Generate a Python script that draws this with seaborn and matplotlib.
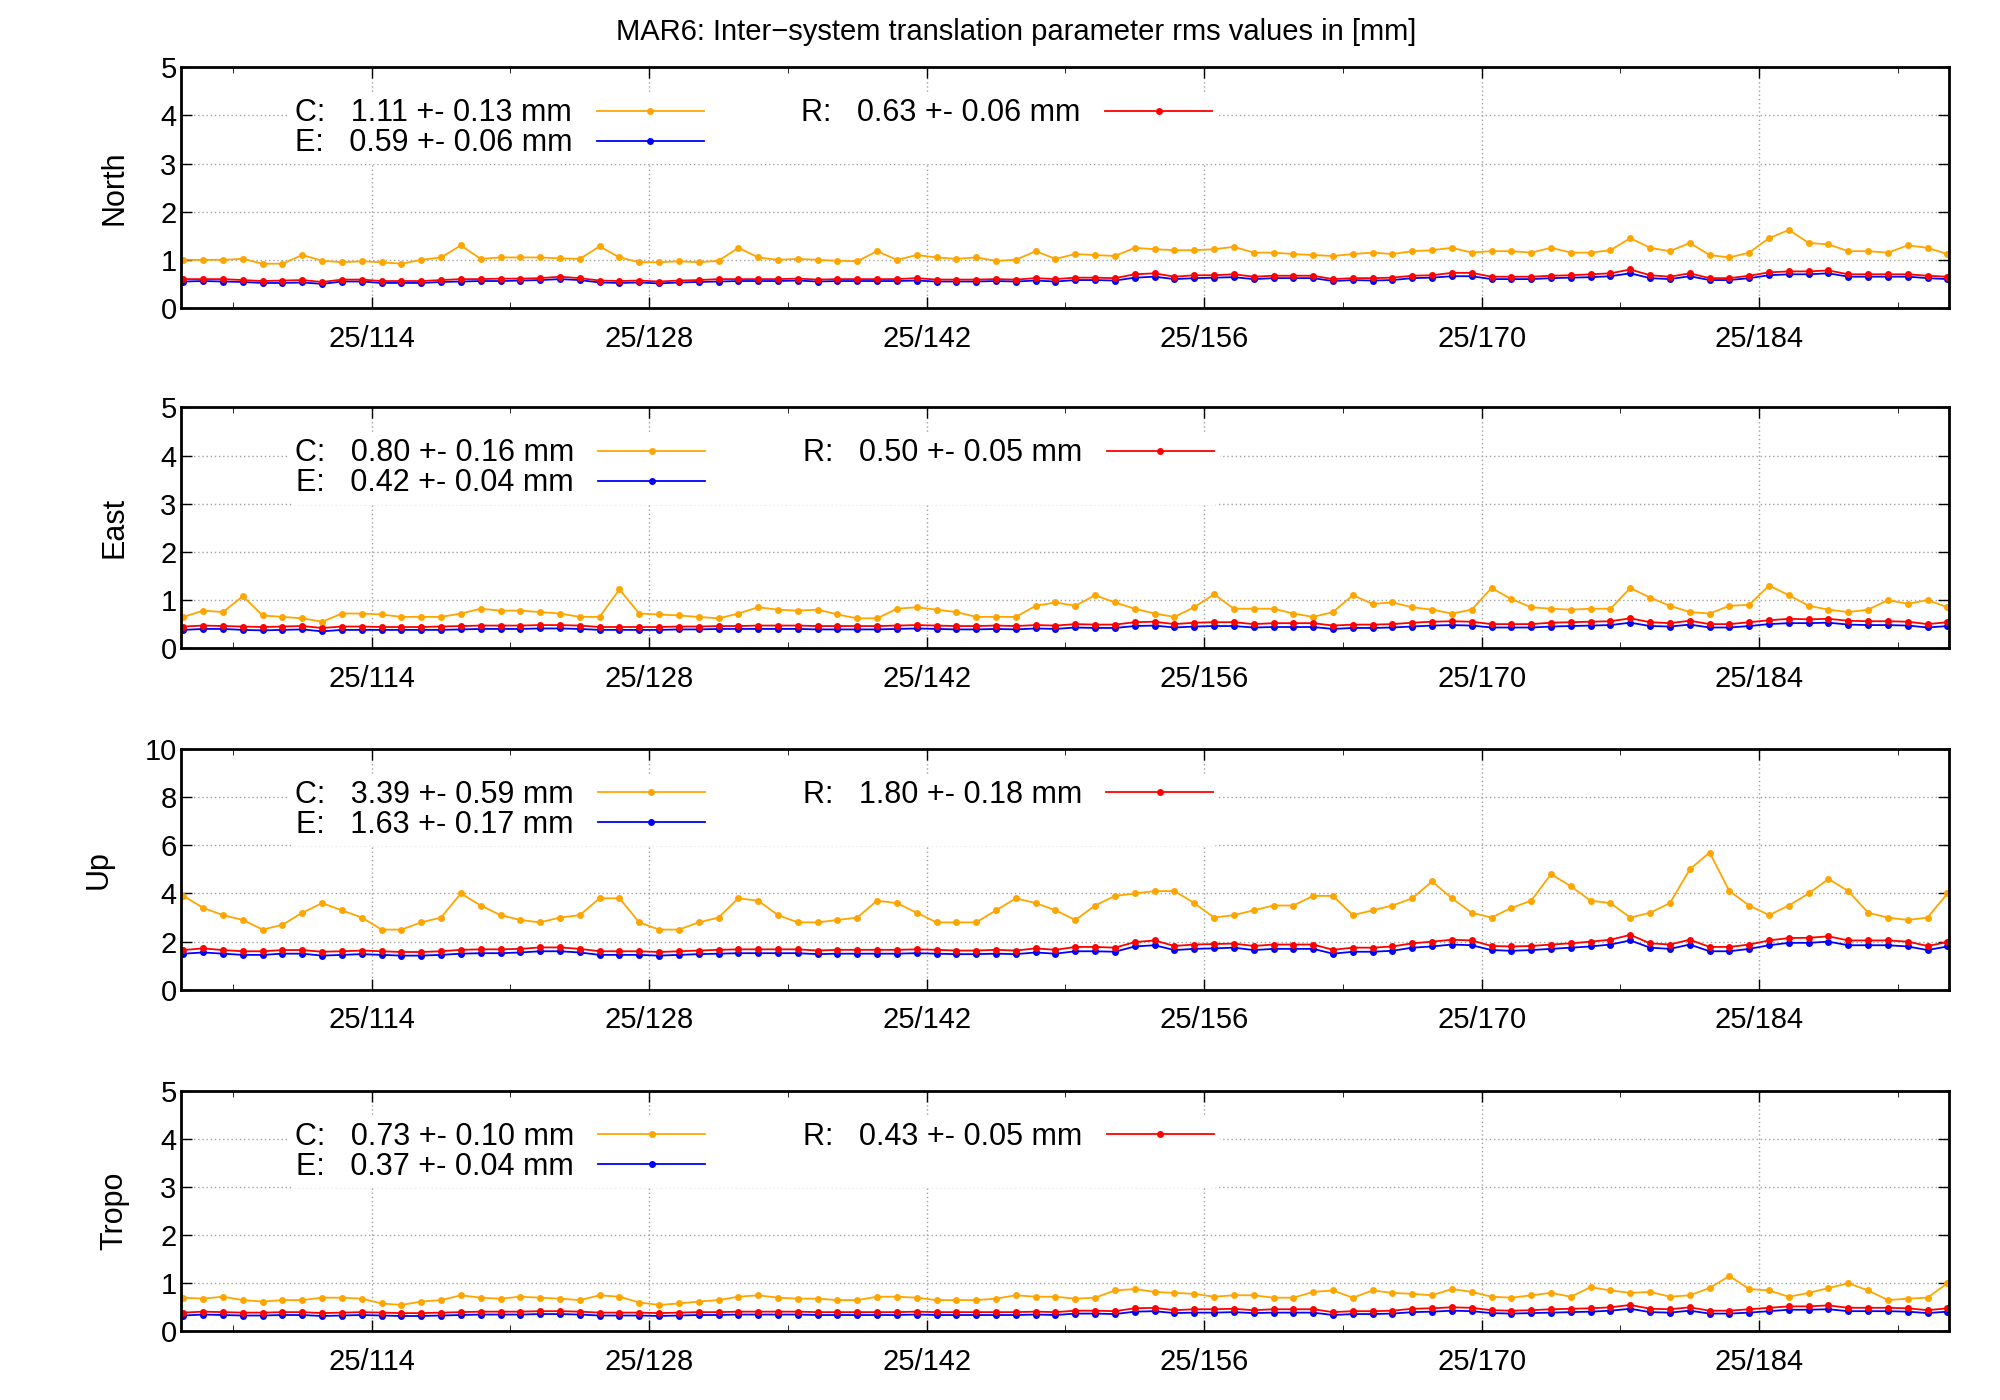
import matplotlib
matplotlib.use("Agg")
import matplotlib.pyplot as plt
import seaborn as sns
import pandas as pd

plt.rcParams["font.family"] = "Liberation Sans"

days = [104.5 + i for i in range(90)]
tick_days = [114, 128, 142, 156, 170, 184]
tick_labels = ["25/114", "25/128", "25/142", "25/156", "25/170", "25/184"]
components = ["North", "East", "Up", "Tropo"]
ylims = [5, 5, 10, 5]
stats = {
    "North": ["1.11 +- 0.13", "0.59 +- 0.06", "0.63 +- 0.06"],
    "East": ["0.80 +- 0.16", "0.42 +- 0.04", "0.50 +- 0.05"],
    "Up": ["3.39 +- 0.59", "1.63 +- 0.17", "1.80 +- 0.18"],
    "Tropo": ["0.73 +- 0.10", "0.37 +- 0.04", "0.43 +- 0.05"],
}

north_C = [1.0, 1.0, 1.0, 1.02, 0.92, 0.92, 1.1, 0.98, 0.95, 0.97,
           0.95, 0.92, 1.0, 1.05, 1.3, 1.02, 1.05, 1.05, 1.05, 1.03,
           1.02, 1.28, 1.05, 0.95, 0.95, 0.97, 0.95, 0.98, 1.25, 1.05,
           1.0, 1.02, 1.0, 0.98, 0.97, 1.18, 1.0, 1.1, 1.05, 1.02,
           1.05, 0.98, 1.0, 1.18, 1.02, 1.12, 1.1, 1.08, 1.25, 1.22,
           1.2, 1.2, 1.22, 1.27, 1.15, 1.15, 1.12, 1.1, 1.08, 1.12,
           1.15, 1.12, 1.18, 1.2, 1.25, 1.15, 1.18, 1.18, 1.15, 1.25,
           1.15, 1.15, 1.2, 1.45, 1.25, 1.18, 1.35, 1.1, 1.05, 1.15,
           1.45, 1.62, 1.35, 1.32, 1.18, 1.18, 1.15, 1.3, 1.25, 1.12]
north_E = [0.55, 0.56, 0.55, 0.54, 0.52, 0.52, 0.53, 0.5, 0.55, 0.55,
           0.52, 0.52, 0.52, 0.54, 0.55, 0.56, 0.56, 0.57, 0.58, 0.6,
           0.58, 0.53, 0.52, 0.53, 0.51, 0.53, 0.54, 0.55, 0.56, 0.56,
           0.56, 0.57, 0.55, 0.56, 0.56, 0.56, 0.56, 0.57, 0.55, 0.55,
           0.55, 0.56, 0.55, 0.57, 0.55, 0.58, 0.58, 0.57, 0.63, 0.65,
           0.6, 0.62, 0.63, 0.64, 0.6, 0.62, 0.62, 0.62, 0.56, 0.58,
           0.57, 0.58, 0.62, 0.63, 0.66, 0.66, 0.6, 0.6, 0.6, 0.62,
           0.63, 0.64, 0.66, 0.72, 0.62, 0.6, 0.66, 0.58, 0.58, 0.62,
           0.68, 0.7, 0.7, 0.72, 0.65, 0.65, 0.65, 0.65, 0.62, 0.6]
north_R = [0.6, 0.6, 0.6, 0.58, 0.56, 0.57, 0.58, 0.54, 0.59, 0.59,
           0.56, 0.56, 0.56, 0.58, 0.6, 0.6, 0.61, 0.61, 0.62, 0.65,
           0.62, 0.57, 0.56, 0.57, 0.55, 0.57, 0.58, 0.6, 0.6, 0.6,
           0.6, 0.61, 0.59, 0.6, 0.6, 0.6, 0.6, 0.62, 0.59, 0.59,
           0.59, 0.6, 0.59, 0.62, 0.6, 0.63, 0.63, 0.62, 0.7, 0.72,
           0.65, 0.68, 0.68, 0.7, 0.65, 0.67, 0.67, 0.67, 0.6, 0.62,
           0.62, 0.63, 0.67, 0.68, 0.73, 0.73, 0.65, 0.65, 0.65, 0.67,
           0.68, 0.7, 0.72, 0.8, 0.68, 0.65, 0.72, 0.62, 0.62, 0.67,
           0.74, 0.76, 0.76, 0.78, 0.7, 0.7, 0.7, 0.7, 0.67, 0.65]

east_C = [0.65, 0.78, 0.75, 1.08, 0.68, 0.65, 0.62, 0.55, 0.72, 0.72,
          0.7, 0.65, 0.65, 0.65, 0.72, 0.82, 0.78, 0.78, 0.75, 0.72,
          0.65, 0.65, 1.22, 0.72, 0.7, 0.68, 0.65, 0.62, 0.72, 0.85,
          0.8, 0.78, 0.8, 0.7, 0.62, 0.62, 0.82, 0.85, 0.8, 0.75,
          0.65, 0.65, 0.65, 0.88, 0.95, 0.88, 1.1, 0.95, 0.82, 0.72,
          0.65, 0.85, 1.12, 0.82, 0.82, 0.82, 0.72, 0.65, 0.75, 1.1,
          0.92, 0.95, 0.85, 0.8, 0.72, 0.8, 1.25, 1.02, 0.85, 0.82,
          0.8, 0.82, 0.82, 1.25, 1.05, 0.88, 0.75, 0.72, 0.88, 0.9,
          1.3, 1.1, 0.88, 0.8, 0.75, 0.8, 1.0, 0.92, 1.0, 0.85]
east_E = [0.38, 0.4, 0.4, 0.38, 0.37, 0.38, 0.39, 0.35, 0.38, 0.38,
          0.38, 0.38, 0.38, 0.38, 0.39, 0.4, 0.4, 0.4, 0.41, 0.41,
          0.4, 0.38, 0.38, 0.38, 0.38, 0.39, 0.39, 0.4, 0.4, 0.4,
          0.4, 0.4, 0.39, 0.39, 0.39, 0.39, 0.4, 0.41, 0.4, 0.39,
          0.39, 0.4, 0.39, 0.41, 0.4, 0.43, 0.42, 0.42, 0.46, 0.47,
          0.43, 0.45, 0.46, 0.46, 0.43, 0.44, 0.44, 0.44, 0.4, 0.42,
          0.42, 0.43, 0.45, 0.47, 0.48, 0.47, 0.43, 0.43, 0.43, 0.45,
          0.46, 0.47, 0.48, 0.53, 0.46, 0.45, 0.49, 0.43, 0.43, 0.46,
          0.5, 0.52, 0.52, 0.53, 0.49, 0.48, 0.48, 0.47, 0.43, 0.46]
east_R = [0.45, 0.47, 0.46, 0.45, 0.44, 0.45, 0.46, 0.42, 0.45, 0.45,
          0.44, 0.44, 0.44, 0.45, 0.46, 0.47, 0.47, 0.47, 0.48, 0.48,
          0.47, 0.44, 0.44, 0.44, 0.44, 0.45, 0.45, 0.46, 0.46, 0.47,
          0.47, 0.47, 0.46, 0.46, 0.46, 0.46, 0.47, 0.48, 0.47, 0.46,
          0.46, 0.47, 0.46, 0.48, 0.47, 0.5, 0.49, 0.49, 0.54, 0.55,
          0.5, 0.53, 0.54, 0.54, 0.5, 0.52, 0.52, 0.52, 0.47, 0.49,
          0.49, 0.5, 0.53, 0.55, 0.56, 0.55, 0.5, 0.5, 0.5, 0.53,
          0.54, 0.55, 0.56, 0.62, 0.54, 0.52, 0.57, 0.5, 0.5, 0.54,
          0.58, 0.61, 0.6, 0.61, 0.57, 0.56, 0.56, 0.55, 0.5, 0.54]

up_C = [3.9, 3.4, 3.1, 2.9, 2.5, 2.7, 3.2, 3.6, 3.3, 3.0,
        2.5, 2.5, 2.8, 3.0, 4.0, 3.5, 3.1, 2.9, 2.8, 3.0,
        3.1, 3.8, 3.8, 2.8, 2.5, 2.5, 2.8, 3.0, 3.8, 3.7,
        3.1, 2.8, 2.8, 2.9, 3.0, 3.7, 3.6, 3.2, 2.8, 2.8,
        2.8, 3.3, 3.8, 3.6, 3.3, 2.9, 3.5, 3.9, 4.0, 4.1,
        4.1, 3.6, 3.0, 3.1, 3.3, 3.5, 3.5, 3.9, 3.9, 3.1,
        3.3, 3.5, 3.8, 4.5, 3.8, 3.2, 3.0, 3.4, 3.7, 4.8,
        4.3, 3.7, 3.6, 3.0, 3.2, 3.6, 5.0, 5.7, 4.1, 3.5,
        3.1, 3.5, 4.0, 4.6, 4.1, 3.2, 3.0, 2.9, 3.0, 4.0]
up_E = [1.5, 1.55, 1.5, 1.45, 1.45, 1.5, 1.5, 1.42, 1.45, 1.48,
        1.45, 1.42, 1.42, 1.45, 1.5, 1.52, 1.52, 1.55, 1.6, 1.6,
        1.55, 1.45, 1.45, 1.45, 1.42, 1.45, 1.48, 1.5, 1.52, 1.52,
        1.52, 1.52, 1.48, 1.5, 1.5, 1.5, 1.5, 1.52, 1.5, 1.48,
        1.48, 1.5, 1.48, 1.55, 1.5, 1.6, 1.6, 1.58, 1.8, 1.85,
        1.65, 1.7, 1.72, 1.75, 1.65, 1.7, 1.7, 1.7, 1.5, 1.58,
        1.58, 1.62, 1.75, 1.8, 1.88, 1.85, 1.65, 1.62, 1.65, 1.7,
        1.75, 1.8, 1.88, 2.05, 1.75, 1.7, 1.88, 1.6, 1.6, 1.7,
        1.85, 1.95, 1.95, 2.0, 1.85, 1.85, 1.85, 1.8, 1.65, 1.8]
up_R = [1.65, 1.72, 1.65, 1.6, 1.6, 1.65, 1.65, 1.58, 1.6, 1.63,
        1.6, 1.57, 1.57, 1.6, 1.66, 1.68, 1.68, 1.7, 1.76, 1.76,
        1.7, 1.6, 1.6, 1.6, 1.57, 1.6, 1.63, 1.66, 1.68, 1.68,
        1.68, 1.68, 1.63, 1.66, 1.66, 1.66, 1.66, 1.68, 1.66, 1.63,
        1.63, 1.66, 1.63, 1.72, 1.66, 1.78, 1.78, 1.75, 1.98, 2.05,
        1.82, 1.88, 1.9, 1.92, 1.82, 1.88, 1.88, 1.88, 1.66, 1.75,
        1.75, 1.8, 1.93, 2.0, 2.08, 2.05, 1.82, 1.8, 1.82, 1.88,
        1.93, 2.0, 2.08, 2.28, 1.93, 1.88, 2.08, 1.78, 1.78, 1.88,
        2.05, 2.15, 2.16, 2.22, 2.05, 2.05, 2.05, 2.0, 1.82, 1.98]

tropo_C = [0.7, 0.68, 0.72, 0.65, 0.62, 0.65, 0.65, 0.7, 0.7, 0.68,
           0.58, 0.55, 0.62, 0.65, 0.75, 0.7, 0.68, 0.72, 0.7, 0.68,
           0.65, 0.75, 0.72, 0.6, 0.55, 0.58, 0.62, 0.65, 0.72, 0.75,
           0.7, 0.68, 0.68, 0.65, 0.65, 0.72, 0.72, 0.7, 0.65, 0.65,
           0.65, 0.68, 0.75, 0.72, 0.72, 0.68, 0.7, 0.85, 0.88, 0.82,
           0.8, 0.78, 0.72, 0.75, 0.75, 0.7, 0.7, 0.82, 0.85, 0.7,
           0.85, 0.8, 0.78, 0.75, 0.88, 0.82, 0.72, 0.7, 0.75, 0.8,
           0.72, 0.92, 0.85, 0.8, 0.82, 0.72, 0.75, 0.9, 1.15, 0.88,
           0.85, 0.72, 0.8, 0.9, 1.0, 0.85, 0.65, 0.68, 0.7, 1.0]
tropo_E = [0.33, 0.35, 0.34, 0.33, 0.33, 0.34, 0.34, 0.32, 0.33, 0.34,
           0.33, 0.32, 0.32, 0.33, 0.34, 0.35, 0.35, 0.35, 0.36, 0.36,
           0.35, 0.33, 0.33, 0.33, 0.32, 0.33, 0.34, 0.34, 0.35, 0.35,
           0.35, 0.35, 0.34, 0.34, 0.34, 0.34, 0.34, 0.35, 0.34, 0.34,
           0.34, 0.34, 0.34, 0.35, 0.34, 0.37, 0.37, 0.36, 0.41, 0.42,
           0.38, 0.39, 0.39, 0.4, 0.38, 0.39, 0.39, 0.39, 0.34, 0.36,
           0.36, 0.37, 0.4, 0.41, 0.43, 0.42, 0.38, 0.37, 0.38, 0.39,
           0.4, 0.41, 0.43, 0.47, 0.4, 0.39, 0.43, 0.37, 0.37, 0.39,
           0.42, 0.45, 0.45, 0.46, 0.42, 0.42, 0.42, 0.41, 0.38, 0.41]
tropo_R = [0.39, 0.41, 0.4, 0.39, 0.39, 0.4, 0.4, 0.38, 0.39, 0.4,
           0.39, 0.38, 0.38, 0.39, 0.4, 0.41, 0.41, 0.41, 0.42, 0.42,
           0.41, 0.39, 0.39, 0.39, 0.38, 0.39, 0.4, 0.4, 0.41, 0.41,
           0.41, 0.41, 0.4, 0.4, 0.4, 0.4, 0.4, 0.41, 0.4, 0.4,
           0.4, 0.4, 0.4, 0.41, 0.4, 0.43, 0.43, 0.42, 0.48, 0.49,
           0.44, 0.46, 0.46, 0.47, 0.44, 0.46, 0.46, 0.46, 0.4, 0.42,
           0.42, 0.43, 0.47, 0.48, 0.5, 0.49, 0.44, 0.43, 0.44, 0.46,
           0.47, 0.48, 0.5, 0.55, 0.47, 0.46, 0.5, 0.43, 0.43, 0.46,
           0.49, 0.52, 0.52, 0.54, 0.49, 0.49, 0.49, 0.48, 0.44, 0.48]

series = {
    "North": (north_C, north_E, north_R),
    "East": (east_C, east_E, east_R),
    "Up": (up_C, up_E, up_R),
    "Tropo": (tropo_C, tropo_E, tropo_R),
}
colors = {"C": "#ffa500", "E": "#0000ff", "R": "#ff0000"}

fig = plt.figure(figsize=(20, 14), dpi=100)
fig.text(0.508, 0.977, "MAR6: Inter\u2212system translation parameter rms values in [mm]",
         ha="center", va="center", fontsize=21)
tops = [0.952, 0.709, 0.465, 0.221]
h = 0.172
for comp, top, ymax in zip(components, tops, ylims):
    ax = fig.add_axes([0.0907, top - h, 0.884, h])
    cv, ev, rv = series[comp]
    cs, es, rs = stats[comp]
    rows = []
    for name, vals in (("C", cv), ("E", ev), ("R", rv)):
        for d, v in zip(days, vals):
            rows.append({"day": d, "v": v, "sys": name})
    df = pd.DataFrame(rows)
    for name, lab in (("C", cs), ("E", es), ("R", rs)):
        sub = df[df["sys"] == name]
        sns.lineplot(data=sub, x="day", y="v", ax=ax, color=colors[name], lw=1.3,
                     marker="o", markersize=5, markeredgewidth=0, label=f"{name}:   {lab} mm")
    hs, ls = ax.get_legend_handles_labels()
    leg = ax.legend(hs, ls, ncol=2, markerfirst=False, loc="upper left",
                    bbox_to_anchor=(0.052, 0.96), fontsize=22, frameon=True,
                    facecolor="white", edgecolor="none", framealpha=1,
                    handlelength=3.5, columnspacing=3.2, labelspacing=0.0,
                    handletextpad=0.8, borderpad=0.2)
    leg.set_zorder(5)
    ax.set_xlim(104.4, 193.6)
    ax.set_ylim(0, ymax)
    step = 2 if ymax == 10 else 1
    ax.set_yticks(list(range(0, ymax + 1, step)))
    ax.set_xticks(tick_days)
    ax.set_xticklabels(tick_labels)
    ax.set_xticks([107, 121, 135, 149, 163, 177, 191], minor=True)
    ax.grid(True, which="major", color="#a0a0a0", ls=(0, (1, 2)), lw=1)
    ax.tick_params(which="both", direction="in", top=True, right=True, labelsize=21)
    ax.tick_params(which="major", length=8, width=1)
    ax.tick_params(which="minor", length=4)
    ax.tick_params(axis="x", pad=12)
    for s in ax.spines.values():
        s.set_linewidth(2)
    ax.set_xlabel("")
    ax.set_ylabel(comp, fontsize=22, labelpad=22)
fig.savefig("out.png", dpi=100)
